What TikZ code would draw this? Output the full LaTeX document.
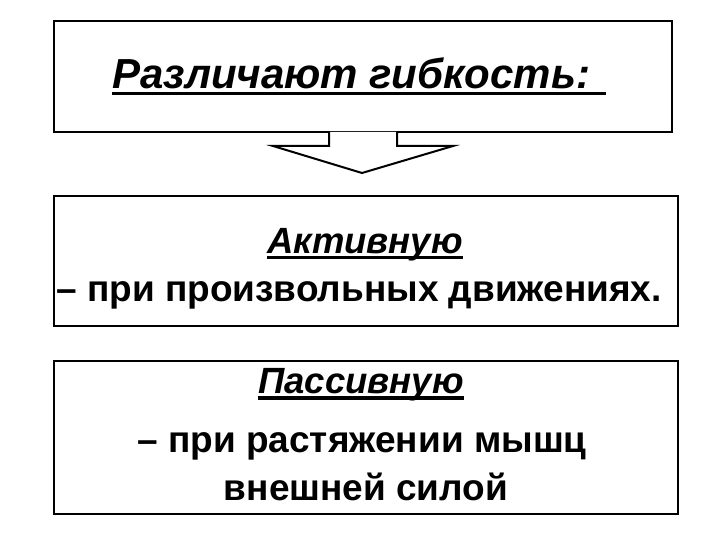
\documentclass[tikz,border=0pt]{standalone}
\usepackage{fontspec}
\setmainfont{Liberation Sans}
\newcommand\myul[1]{\setbox0\hbox{#1}\rlap{\rule[-6.5pt]{\wd0}{3.5pt}}\box0}
\begin{document}
\begin{tikzpicture}[x=1pt,y=-1pt,
  boxst/.style={draw=black,line width=2pt,fill=white},
  txt/.style={anchor=base,inner sep=0pt,font=\fontsize{37}{40}\selectfont\bfseries},
  sub/.style={anchor=base,inner sep=0pt,font=\fontsize{36.5}{40}\selectfont\bfseries\itshape},
  head/.style={anchor=base,inner sep=0pt,font=\fontsize{42}{46}\selectfont\bfseries\itshape}]
\useasboundingbox (0,0) rectangle (720,540);
\fill[white] (0,0) rectangle (720,540);
% boxes
\draw[boxst] (54,21) rectangle (672,132);
\draw[boxst] (54,196) rectangle (678,326);
\draw[boxst] (54,361) rectangle (678,514);
% arrow
\coordinate (a1) at (329,132);
\coordinate (a2) at (329,146);
\coordinate (a3) at (273,146);
\coordinate (tip) at (362,173);
\coordinate (a5) at (453,146);
\coordinate (a6) at (397,146);
\coordinate (a7) at (397,132);
\fill[white] (a1) -- (a2) -- (a3) -- (tip) -- (a5) -- (a6) -- (a7) -- cycle;
\draw[line width=2pt,line join=miter] (a1) -- (a2) -- (a3) -- (tip) -- (a5) -- (a6) -- (a7);
% texts
\node[head] (t1) at (359,89) {\myul{Различают гибкость: }};
\node[sub] (t2) at (365,253) {\myul{Активную}};
\node[txt] (t3) at (359,301) {– при произвольных движениях.};
\node[sub] (t4) at (361,393) {\myul{Пассивную}};
\node[txt] (t5) at (362,452) {– при растяжении мышц};
\node[txt] (t6) at (366,500) {внешней силой};
\end{tikzpicture}
\end{document}
